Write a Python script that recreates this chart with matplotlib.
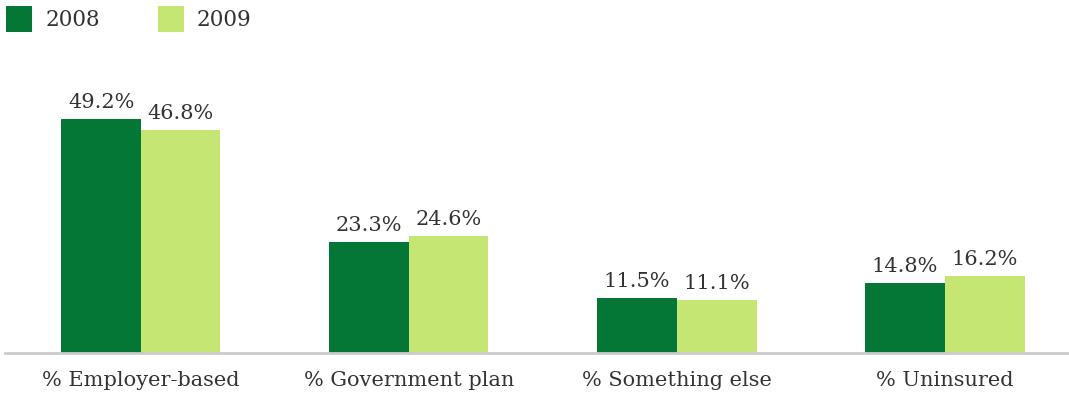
import matplotlib.pyplot as plt
import numpy as np

# coverage type shares, 2008 vs 2009
categories = ['% Employer-based', '% Government plan', '% Something else', '% Uninsured']
years = ['2008', '2009']
vals_2008 = [49.2, 23.3, 11.5, 14.8]
vals_2009 = [46.8, 24.6, 11.1, 16.2]

DARK = '#047635'
LIGHT = '#c6e673'
TEXT = '#333333'

plt.rcParams['font.family'] = ['DejaVu Serif']

fig = plt.figure(figsize=(10.69, 3.97), dpi=100)
ax = fig.add_axes([5 / 1069, 44 / 397, 1064 / 1069, 293 / 397])

x = np.arange(len(categories))
w = 0.297
b1 = ax.bar(x - w / 2, vals_2008, w, color=DARK, label=years[0])
b2 = ax.bar(x + w / 2, vals_2009, w, color=LIGHT, label=years[1])

for bars, vals in ((b1, vals_2008), (b2, vals_2009)):
    for bar, v in zip(bars, vals):
        ax.annotate(f'{v:.1f}%', (bar.get_x() + bar.get_width() / 2, v),
                    xytext=(0, 5), textcoords='offset points',
                    ha='center', va='bottom', fontsize=15, color=TEXT)

ax.set_xlim(-0.507, 3.463)
ax.set_ylim(0, 293 / 4.76)
ax.set_xticks(x)
ax.set_xticklabels(categories, fontsize=15, color=TEXT)
ax.tick_params(axis='x', length=0, pad=13)
ax.set_yticks([])
for side in ('top', 'right', 'left'):
    ax.spines[side].set_visible(False)
ax.spines['bottom'].set_color('#cccccc')
ax.spines['bottom'].set_linewidth(2)

fig.legend(handles=[b1, b2], loc='upper left', bbox_to_anchor=(0, 1.0),
           ncol=2, frameon=False, fontsize=15.5, handlelength=1.2, handleheight=1.45,
           handletextpad=0.6, columnspacing=2.7, borderaxespad=0.1, borderpad=0.2,
           labelcolor=TEXT)

fig.savefig('out.png', dpi=100, facecolor='white')
